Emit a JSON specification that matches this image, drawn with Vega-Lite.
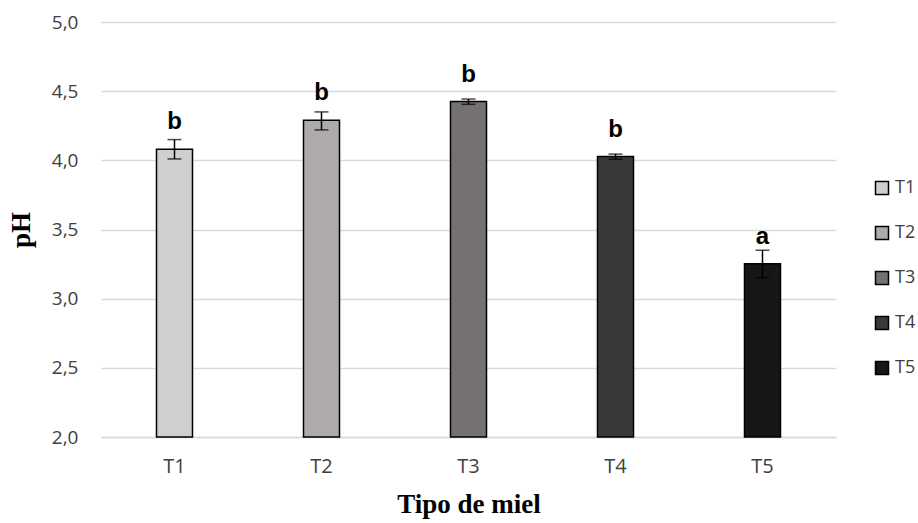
{
  "$schema": "https://vega.github.io/schema/vega-lite/v6.json",
  "width": 735,
  "height": 415,
  "autosize": {"type": "none"},
  "padding": {"left": 101, "top": 22, "right": 82, "bottom": 86},
  "background": "white",
  "data": {
    "values": [
      {"tipo": "T1", "ph": 4.08, "lo": 4.01, "hi": 4.15, "letra": "b"},
      {"tipo": "T2", "ph": 4.29, "lo": 4.22, "hi": 4.35, "letra": "b"},
      {"tipo": "T3", "ph": 4.425, "lo": 4.405, "hi": 4.443, "letra": "b"},
      {"tipo": "T4", "ph": 4.027, "lo": 4.008, "hi": 4.045, "letra": "b"},
      {"tipo": "T5", "ph": 3.253, "lo": 3.15, "hi": 3.35, "letra": "a"}
    ]
  },
  "config": {
    "view": {"stroke": null},
    "axis": {"labelFont": "Open Sans", "labelColor": "#404040", "labelFontSize": 19}
  },
  "encoding": {
    "x": {
      "field": "tipo", "type": "nominal",
      "scale": {"paddingInner": 0.755, "paddingOuter": 0.3775},
      "axis": {
        "title": "Tipo de miel", "titleFont": "Liberation Serif", "titleFontSize": 27, "titleFontWeight": "bold", "titleColor": "black", "titlePadding": 15,
        "labelAngle": 0, "labelPadding": 19, "labelFontSize": 20, "labelFont": "Open Sans", "labelColor": "#404040",
        "ticks": false, "domainColor": "#d9d9d9", "domainWidth": 1.5
      }
    }
  },
  "layer": [
    {
      "mark": {"type": "bar", "stroke": "black", "strokeWidth": 1.5},
      "encoding": {
        "y": {
          "field": "ph", "type": "quantitative",
          "scale": {"domain": [2, 5], "zero": false, "nice": false},
          "axis": {
            "title": "pH", "titleFont": "Liberation Serif", "titleFontSize": 27, "titleFontWeight": "bold", "titleColor": "black", "titlePadding": 16,
            "values": [2, 2.5, 3, 3.5, 4, 4.5, 5],
            "labelExpr": "replace(format(datum.value, '.1f'), '.', ',')",
            "labelPadding": 23, "ticks": false, "domain": false,
            "gridColor": "#d9d9d9", "gridWidth": 1.5
          }
        },
        "y2": {"datum": 2},
        "fill": {
          "field": "tipo", "type": "nominal",
          "scale": {"range": ["#d0cece", "#aeaaaa", "#767171", "#3b3838", "#161616"]},
          "legend": {
            "title": null, "orient": "none", "legendX": 772, "legendY": 157,
            "symbolType": "square", "symbolSize": 169, "symbolStrokeColor": "black", "symbolStrokeWidth": 1.5,
            "labelFont": "Open Sans", "labelFontSize": 18, "labelColor": "#404040", "rowPadding": 25, "labelOffset": 4
          }
        }
      }
    },
    {
      "mark": {"type": "rule", "color": "black", "strokeWidth": 1.5},
      "encoding": {
        "y": {"field": "lo", "type": "quantitative"},
        "y2": {"field": "hi"}
      }
    },
    {
      "mark": {"type": "tick", "color": "black", "thickness": 1.5, "size": 14},
      "encoding": {"y": {"field": "lo", "type": "quantitative"}}
    },
    {
      "mark": {"type": "tick", "color": "black", "thickness": 1.5, "size": 14},
      "encoding": {"y": {"field": "hi", "type": "quantitative"}}
    },
    {
      "mark": {"type": "text", "font": "Liberation Sans", "fontWeight": "bold", "fontSize": 24, "dy": -20, "baseline": "alphabetic", "color": "black"},
      "encoding": {
        "y": {"field": "ph", "type": "quantitative"},
        "text": {"field": "letra"}
      }
    }
  ]
}
